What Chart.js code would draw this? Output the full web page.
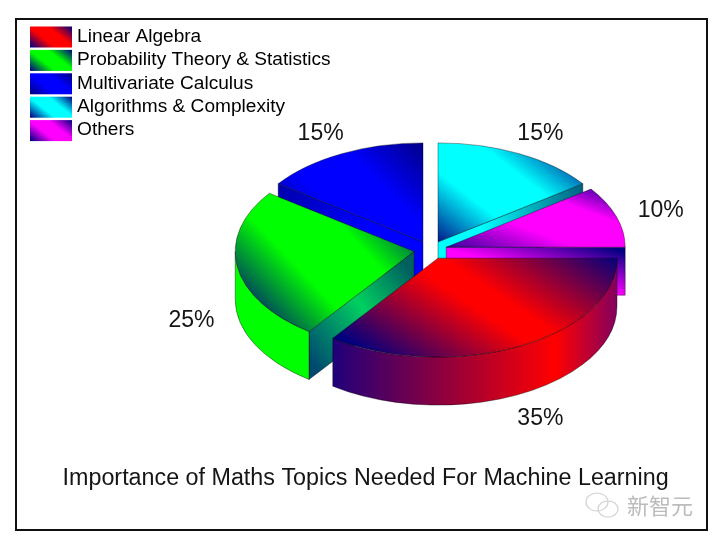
<!DOCTYPE html>
<html lang="en">
<head>
<meta charset="UTF-8">
<title>Importance of Maths Topics</title>
<script src="https://cdn.jsdelivr.net/npm/chart.js"></script>
<style>
    html, body { margin: 0; padding: 0; background: #fff; }
    canvas { display: block; }
</style>
</head>
<body>
<canvas id="pie" width="722" height="542"></canvas>
<script>
    const topics = ['Linear Algebra', 'Probability Theory & Statistics', 'Multivariate Calculus', 'Algorithms & Complexity', 'Others'];
    const shares = [35, 25, 15, 15, 10];
    const chartTitle = 'Importance of Maths Topics Needed For Machine Learning';
    const topicColors = ['#ff0000', '#00ff00', '#0000ff', '#00ffff', '#ff00ff'];

    // look of the fake 3d pie
    const NAVY = '#000080';
    const TEXT = '#151515';
    const centerX = 430.5, centerY = 250;
    const tilt = 0.553, depth = 48, explode = 16.5;
    const paintOrder = [2, 3, 4, 1, 0]; // back to front

    // top face gradients, relative to each slice's apex: [x0, y0, x1, y1, middle stop, flat part]
    const topAxes = [
        [1, 144, 123, -40, 0.5, 0.1],
        [-222, 14, -70, -131, 0.5, 0.28],
        [-126, 21, 0, -105, 0.5, 0.28],
        [10, 15, 114, -119, 0.5, 0.28],
        [123, 58, 168, -64, 0.615, 0.28]
    ];

    // navy - colour - navy with a flat part in the middle
    function band(g, color, m, flat) {
        g.addColorStop(0, NAVY);
        g.addColorStop(m * (1 - flat), color);
        g.addColorStop(m + (1 - m) * flat, color);
        g.addColorStop(1, NAVY);
        return g;
    }

    function topFill(context) {
        const i = context.dataIndex;
        const area = context.chart.chartArea;
        const ox = (area.left + area.right) / 2, oy = (area.top + area.bottom) / 2;
        const a = topAxes[i];
        // the arc is drawn squashed, so keep the band straight in page space
        const ax = a[2] - a[0], ay = a[3] - a[1];
        const t = (ax * ax + ay * ay) / (ax * ax + ay * ay * tilt * tilt);
        const x0 = ox + a[0], y0 = oy + a[1] / tilt;
        const g = context.chart.ctx.createLinearGradient(x0, y0, x0 + t * ax, y0 + t * ay * tilt);
        return band(g, topicColors[i], a[4], a[5]);
    }

    function stops(g, list) {
        list.forEach(s => g.addColorStop(s[0], s[1]));
        return g;
    }

    // side walls, page coordinates
    function sideFill(ctx, i) {
        if (i === 0) return stops(ctx.createLinearGradient(333, 0, 618, 0), [[0, '#20007a'], [0.78, '#ff0000'], [1, '#800060']]);
        return topicColors[i];
    }
    function faceFill(ctx, i) {
        if (i === 1) return stops(ctx.createLinearGradient(307, 355, 413, 275), [[0, '#004a70'], [0.55, '#00d060'], [1, '#006060']]);
        if (i === 2) return stops(ctx.createLinearGradient(278, 200, 423, 260), [[0, '#0000b0'], [0.6, '#0000ff'], [1, '#0000ff']]);
        if (i === 3) return stops(ctx.createLinearGradient(583, 0, 438, 0), [[0, '#006080'], [0.7, '#00ffff'], [1, '#00ffff']]);
        if (i === 4) return stops(ctx.createLinearGradient(449, 250, 460, 208), [[0, '#ff00ff'], [1, NAVY]]);
        return topicColors[i];
    }

    const pie3d = {
        id: 'pie3d',
        beforeDatasetsDraw(chart) {
            const ctx = chart.ctx;
            const arcs = chart.getDatasetMeta(0).data;
            paintOrder.forEach(i => {
                const el = arcs[i];
                const mid = (el.startAngle + el.endAngle) / 2;
                const ax = centerX + explode * Math.cos(mid);
                const ay = centerY + explode * tilt * Math.sin(mid);
                const r = el.outerRadius, ry = r * tilt;
                ctx.save();
                ctx.strokeStyle = 'rgba(0,0,0,0.55)';
                ctx.lineWidth = 0.7;

                // cut faces turned towards the viewer
                [[el.startAngle, Math.cos(el.startAngle) < -1e-6], [el.endAngle, Math.cos(el.endAngle) > 1e-6]].forEach(f => {
                    if (!f[1]) return;
                    const ex = ax + r * Math.cos(f[0]), ey = ay + ry * Math.sin(f[0]);
                    ctx.beginPath();
                    ctx.moveTo(ax, ay);
                    ctx.lineTo(ex, ey);
                    ctx.lineTo(ex, ey + depth);
                    ctx.lineTo(ax, ay + depth);
                    ctx.closePath();
                    ctx.fillStyle = faceFill(ctx, i);
                    ctx.fill();
                    ctx.stroke();
                });

                // outer wall, front half only
                const a0 = Math.max(el.startAngle, 0), a1 = Math.min(el.endAngle, Math.PI);
                if (a1 > a0) {
                    ctx.beginPath();
                    ctx.ellipse(ax, ay, r, ry, 0, a0, a1);
                    ctx.ellipse(ax, ay + depth, r, ry, 0, a1, a0, true);
                    ctx.closePath();
                    ctx.fillStyle = sideFill(ctx, i);
                    ctx.fill();
                    ctx.stroke();
                }

                // top face is the library's own arc, squashed
                ctx.translate(ax, ay);
                ctx.scale(1, tilt);
                ctx.translate(-el.x, -el.y);
                el.draw(ctx);
                ctx.restore();
            });
            return false;
        },
        afterDraw(chart) {
            const ctx = chart.ctx;
            const arcs = chart.getDatasetMeta(0).data;

            // percent labels
            ctx.save();
            ctx.fillStyle = TEXT;
            ctx.font = '23px "Liberation Sans", Arial, sans-serif';
            ctx.textAlign = 'center';
            ctx.textBaseline = 'middle';
            arcs.forEach((el, i) => {
                const mid = (el.startAngle + el.endAngle) / 2;
                const s = Math.sin(mid);
                const x = centerX + 242 * Math.cos(mid);
                const y = centerY + 133 * s + (s > 0 ? depth : 0) + 2;
                ctx.fillText(shares[i] + '%', x, y);
            });
            ctx.restore();

            // legend swatches
            ctx.save();
            chart.legend.legendHitBoxes.forEach((box, i) => {
                const g = ctx.createLinearGradient(box.left + 8, box.top + 27, box.left + 34, box.top - 6);
                band(g, topicColors[i], 0.5, 0.28);
                ctx.fillStyle = g;
                ctx.fillRect(box.left, box.top + 0.5, 42, 21);
            });
            ctx.restore();

            // frame
            ctx.save();
            ctx.strokeStyle = '#111';
            ctx.lineWidth = 2;
            ctx.strokeRect(16, 19, 691, 511);
            ctx.restore();

            // watermark
            ctx.save();
            ctx.fillStyle = '#bcbcbc';
            ctx.font = '22px "Noto Sans CJK SC", sans-serif';
            ctx.textBaseline = 'middle';
            ctx.fillText('新智元', 627, 506);
            ctx.strokeStyle = '#d2d2d2';
            ctx.lineWidth = 1.2;
            ctx.beginPath();
            ctx.ellipse(597, 502, 11, 9, 0, 0, Math.PI * 2);
            ctx.stroke();
            ctx.beginPath();
            ctx.ellipse(608, 509, 10, 8, 0, 0, Math.PI * 2);
            ctx.stroke();
            ctx.restore();
        }
    };

    new Chart(document.getElementById('pie'), {
        type: 'pie',
        data: {
            labels: topics,
            datasets: [{
                data: shares,
                backgroundColor: topFill,
                borderColor: 'rgba(0,0,0,0.6)',
                borderWidth: 0.8,
                radius: 179
            }]
        },
        options: {
            responsive: false,
            animation: false,
            rotation: 90,
            radius: 179,
            layout: { padding: { left: 27.6, right: 18.4, top: 23.6, bottom: 40 } },
            plugins: {
                tooltip: { enabled: false },
                legend: {
                    position: 'left',
                    align: 'start',
                    labels: {
                        boxWidth: 37.5,
                        boxHeight: 21,
                        padding: 2.4,
                        color: TEXT,
                        font: { family: '"Liberation Sans", Arial, sans-serif', size: 19.1 },
                        generateLabels: chart => chart.data.labels.map((text, i) => ({
                            text, index: i, fillStyle: 'transparent', strokeStyle: 'transparent', lineWidth: 0, hidden: false
                        }))
                    }
                },
                title: {
                    display: true,
                    text: chartTitle,
                    position: 'bottom',
                    color: TEXT,
                    font: { family: '"Liberation Sans", Arial, sans-serif', size: 23.3, weight: 'normal' },
                    padding: { top: 0, bottom: 9 }
                }
            }
        },
        plugins: [pie3d]
    });
</script>
</body>
</html>
